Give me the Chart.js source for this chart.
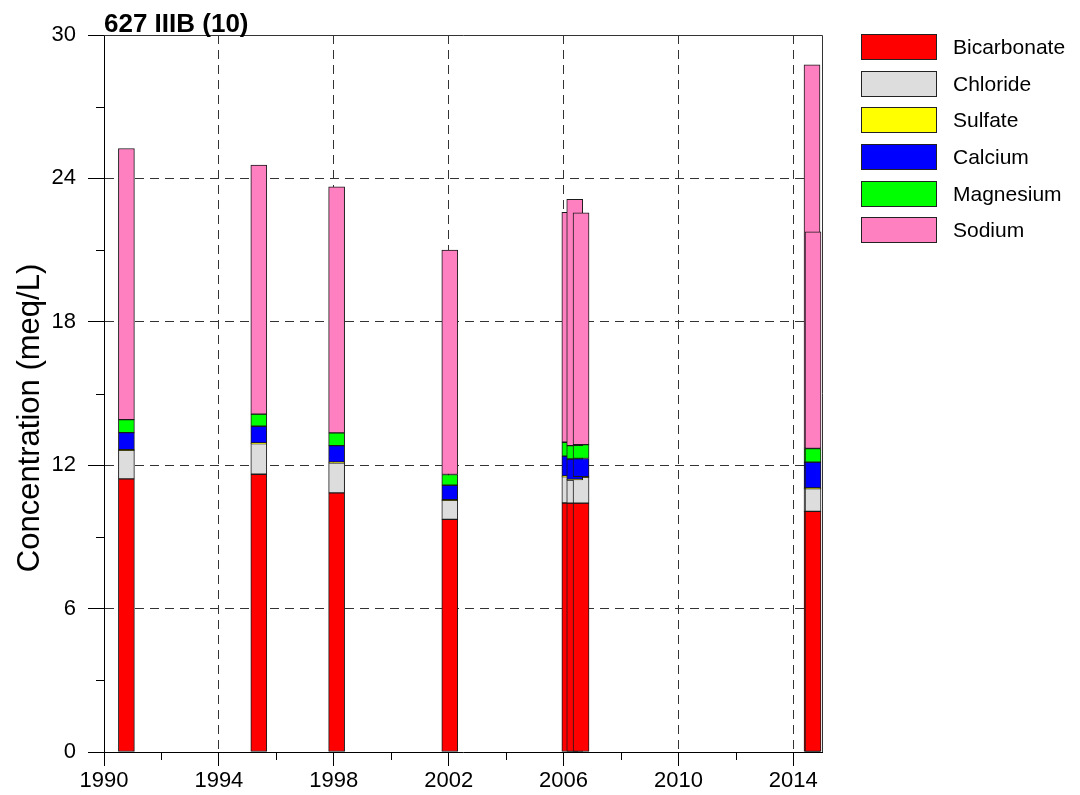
<!DOCTYPE html>
<html>
<head>
<meta charset="utf-8">
<title>627 IIIB (10)</title>
<script src="https://cdn.jsdelivr.net/npm/chart.js@4.4.0/dist/chart.umd.min.js"></script>
<style>
  html, body { margin: 0; padding: 0; background: #fff; }
  #wrap { position: relative; width: 1080px; height: 795px; font-family: "Liberation Sans", Arial, sans-serif; }
  #legend { position: absolute; left: 861px; top: 34px; }
  .item { position: absolute; left: 0; height: 26px; white-space: nowrap; }
  .swatch { position: absolute; left: 0; top: 0; width: 76px; height: 26px; box-sizing: border-box; border: 1px solid #222; }
  .label { position: absolute; left: 92px; top: 0; line-height: 26px; font-size: 21px; color: #000; }
</style>
</head>
<body>
<div id="wrap">
  <canvas id="chart" width="1080" height="795"></canvas>
  <div id="legend"></div>
</div>
<script>
const chartTitle = '627 IIIB (10)';
const yAxisTitle = 'Concentration (meq/L)';

const seriesNames = ['Bicarbonate', 'Chloride', 'Sulfate', 'Calcium', 'Magnesium', 'Sodium'];
const seriesColors = ['#ff0000', '#dddddd', '#ffff00', '#0000ff', '#00ff00', '#ff80c0'];

// sample dates (decimal years)
const sampleDates = [1990.78, 1995.39, 1998.10, 2002.04, 2006.22, 2006.39, 2006.61, 2014.652, 2014.687];

// meq/L, stacked bottom to top in this order
const bicarbonate = [11.43, 11.62, 10.84, 9.73, 10.42, 10.41, 10.41, 10.07, 10.07];
const chloride    = [1.19, 1.28, 1.26, 0.80, 1.10, 0.97, 1.08, 0.95, 0.95];
const sulfate     = [0.03, 0.03, 0.03, 0.03, 0.03, 0.03, 0.03, 0.03, 0.03];
const calcium     = [0.71, 0.70, 0.69, 0.60, 0.83, 0.85, 0.76, 1.08, 1.08];
const magnesium   = [0.55, 0.51, 0.53, 0.45, 0.58, 0.56, 0.58, 0.57, 0.57];
const sodium      = [11.34, 10.42, 10.30, 9.39, 9.62, 10.30, 9.70, 16.05, 9.06];

const yearTicks = [1990, 1994, 1998, 2002, 2006, 2010, 2014];
const minorYearTicks = [1992, 1996, 2000, 2004, 2008, 2012];
const concTicks = [0, 6, 12, 18, 24, 30];
const minorConcTicks = [3, 9, 15, 21, 27];

const layers = [bicarbonate, chloride, sulfate, calcium, magnesium, sodium];

// floating bars so the lower layers can be painted first
const datasets = layers.map((vals, k) => ({
  label: seriesNames[k],
  data: sampleDates.map((d, i) => {
    let lo = 0;
    for (let j = 0; j < k; j++) lo += layers[j][i];
    return { x: d, y: [lo, lo + vals[i]] };
  }),
  backgroundColor: seriesColors[k],
  borderColor: '#1a1a1a',
  borderWidth: 1,
  borderSkipped: false,
  barThickness: 16,
  stack: 'all',
  order: layers.length - 1 - k
}));

// legend
const legendEl = document.getElementById('legend');
seriesNames.forEach((name, i) => {
  const item = document.createElement('div');
  item.className = 'item';
  item.style.top = (i * 36.67) + 'px';
  item.innerHTML = '<div class="swatch" style="background:' + seriesColors[i] + '"></div><div class="label">' + name + '</div>';
  legendEl.appendChild(item);
});

const extras = {
  id: 'extras',
  afterDraw(chart) {
    const { ctx, chartArea: a, scales: { x, y } } = chart;
    ctx.save();
    ctx.lineWidth = 1;
    ctx.strokeStyle = '#000';
    ctx.beginPath();
    minorConcTicks.forEach(v => {
      const py = Math.round(y.getPixelForValue(v)) + 0.5;
      ctx.moveTo(a.left - 8, py);
      ctx.lineTo(a.left, py);
    });
    minorYearTicks.forEach(v => {
      const px = Math.round(x.getPixelForValue(v)) + 0.5;
      ctx.moveTo(px, a.bottom);
      ctx.lineTo(px, a.bottom + 8);
    });
    ctx.stroke();

    ctx.strokeStyle = '#333';
    ctx.beginPath();
    ctx.moveTo(a.left, Math.round(a.top) + 0.5);
    ctx.lineTo(Math.round(a.right) + 0.5, Math.round(a.top) + 0.5);
    ctx.lineTo(Math.round(a.right) + 0.5, a.bottom);
    ctx.stroke();

    ctx.fillStyle = '#000';
    ctx.font = 'bold 26px "Liberation Sans", Arial, sans-serif';
    ctx.textBaseline = 'alphabetic';
    ctx.textAlign = 'left';
    ctx.fillText(chartTitle, a.left, a.top - 3);

    // y axis title
    ctx.translate(30, 418);
    ctx.rotate(-Math.PI / 2);
    ctx.font = '31px "Liberation Sans", Arial, sans-serif';
    ctx.textAlign = 'center';
    ctx.textBaseline = 'middle';
    ctx.fillText(yAxisTitle, 0, 0);
    ctx.restore();
  }
};

Chart.defaults.font.family = '"Liberation Sans", Arial, sans-serif';
Chart.defaults.color = '#000';

new Chart(document.getElementById('chart'), {
  type: 'bar',
  data: { datasets },
  options: {
    responsive: false,
    animation: false,
    devicePixelRatio: 1,
    layout: { padding: { left: 0, right: 258, top: 35, bottom: 0 } },
    plugins: {
      legend: { display: false },
      tooltip: { enabled: false }
    },
    scales: {
      x: {
        type: 'linear',
        min: 1990,
        max: 2015,
        offset: false,
        afterBuildTicks: s => { s.ticks = yearTicks.map(v => ({ value: v })); },
        afterFit: s => { s.height = 43; },
        ticks: {
          autoSkip: false,
          maxRotation: 0,
          padding: 2,
          font: { size: 22 },
          callback: v => String(v)
        },
        grid: {
          offset: false,
          color: c => (c.tick && c.tick.value === 1990 ? 'rgba(0,0,0,0)' : '#333'),
          tickColor: '#000',
          tickLength: 14,
          tickBorderDash: []
        },
        border: { display: true, color: '#000', width: 1, dash: [9, 6] }
      },
      y: {
        min: 0,
        max: 30,
        stacked: false,
        afterBuildTicks: s => { s.ticks = concTicks.map(v => ({ value: v })); },
        afterFit: s => { s.width = 104; },
        ticks: {
          padding: 12,
          font: { size: 22 },
          callback: v => String(v)
        },
        grid: {
          color: c => (c.tick && (c.tick.value === 0 || c.tick.value === 30) ? 'rgba(0,0,0,0)' : '#333'),
          tickColor: '#000',
          tickLength: 16,
          tickBorderDash: []
        },
        border: { display: true, color: '#000', width: 1, dash: [9, 6] }
      }
    }
  },
  plugins: [extras]
});
</script>
</body>
</html>
